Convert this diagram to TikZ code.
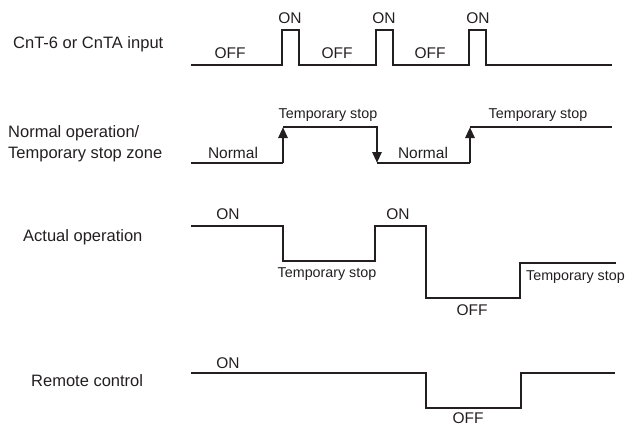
\documentclass[tikz,border=0pt]{standalone}
\usepackage{fontspec}
\setmainfont{Liberation Sans}
\usetikzlibrary{arrows.meta}
\definecolor{ink}{HTML}{231F20}
\begin{document}
\begin{tikzpicture}[x=1pt,y=-1pt,
  wave/.style={draw=ink,line width=2.8pt,line join=miter},
  arr/.style={draw=ink,line width=2.8pt,-{Triangle[length=11pt,width=9pt]}},
  rowlab/.style={anchor=base west,inner sep=0pt,text=ink,font=\fontsize{16.5}{20}\selectfont},
  val/.style={anchor=base,inner sep=0pt,text=ink,font=\fontsize{15.5}{18}\selectfont},
  tsv/.style={anchor=base,inner sep=0pt,text=ink,font=\fontsize{14.3}{17}\selectfont}]
\useasboundingbox (0,0) rectangle (627,426);
% row labels
\node[rowlab] (l1) at (13,48) {CnT-6 or CnTA input};
\node[rowlab] (l2a) at (8,137) {Normal operation/};
\node[rowlab] (l2b) at (8,158) {Temporary stop zone};
\node[rowlab] (l3) at (23,241) {Actual operation};
\node[rowlab] (l4) at (31,386) {Remote control};
% row 1
\draw[wave] (191,65) -- (282,65) -- (282,30) -- (299,30) -- (299,65) -- (376,65) -- (376,30) -- (393,30) -- (393,65)
  -- (469,65) -- (469,30) -- (486,30) -- (486,65) -- (612,65);
\node[val] (off1) at (230,58) {OFF};
\node[val] (off2) at (337,58) {OFF};
\node[val] (off3) at (430,58) {OFF};
\node[val] (on1) at (290,23) {ON};
\node[val] (on2) at (384,23) {ON};
\node[val] (on3) at (478,23) {ON};
% row 2
\coordinate (a0) at (191,163);
\coordinate (a1) at (283,163);
\coordinate (a2) at (283,127);
\coordinate (a3) at (377,127);
\coordinate (a4) at (377,163);
\coordinate (a5) at (470,163);
\coordinate (a6) at (470,127);
\coordinate (a7) at (612,127);
\draw[wave] (a0) -- (a1);
\draw[arr] (a1) -- (a2);
\draw[wave] (a2) -- (a3) -- ([yshift=-1pt]a3);
\draw[arr] (a3) -- (a4);
\draw[wave] (a4) -- (a5);
\draw[arr] (a5) -- (a6);
\draw[wave] (a6) -- (a7);
\node[val] (n1) at (233,158) {Normal};
\node[val] (n2) at (423,158) {Normal};
\node[tsv] (t1) at (328,118) {Temporary stop};
\node[tsv] (t2) at (538,118) {Temporary stop};
% row 3
\draw[wave] (191,226) -- (283,226) -- (283,261) -- (375,261) -- (375,226) -- (426,226) -- (426,298)
  -- (520,298) -- (520,263) -- (616,263);
\node[val] (on4) at (228,219) {ON};
\node[val] (on5) at (398,219) {ON};
\node[tsv] (t3) at (327,277) {Temporary stop};
\node[val] (off4) at (472,315) {OFF};
\node[tsv,anchor=base west] (t4) at (526,280) {Temporary stop};
% row 4
\draw[wave] (191,373) -- (426,373) -- (426,408) -- (521,408) -- (521,373) -- (615,373);
\node[val] (on6) at (228,368) {ON};
\node[val] (off5) at (468,423) {OFF};
\end{tikzpicture}
\end{document}
